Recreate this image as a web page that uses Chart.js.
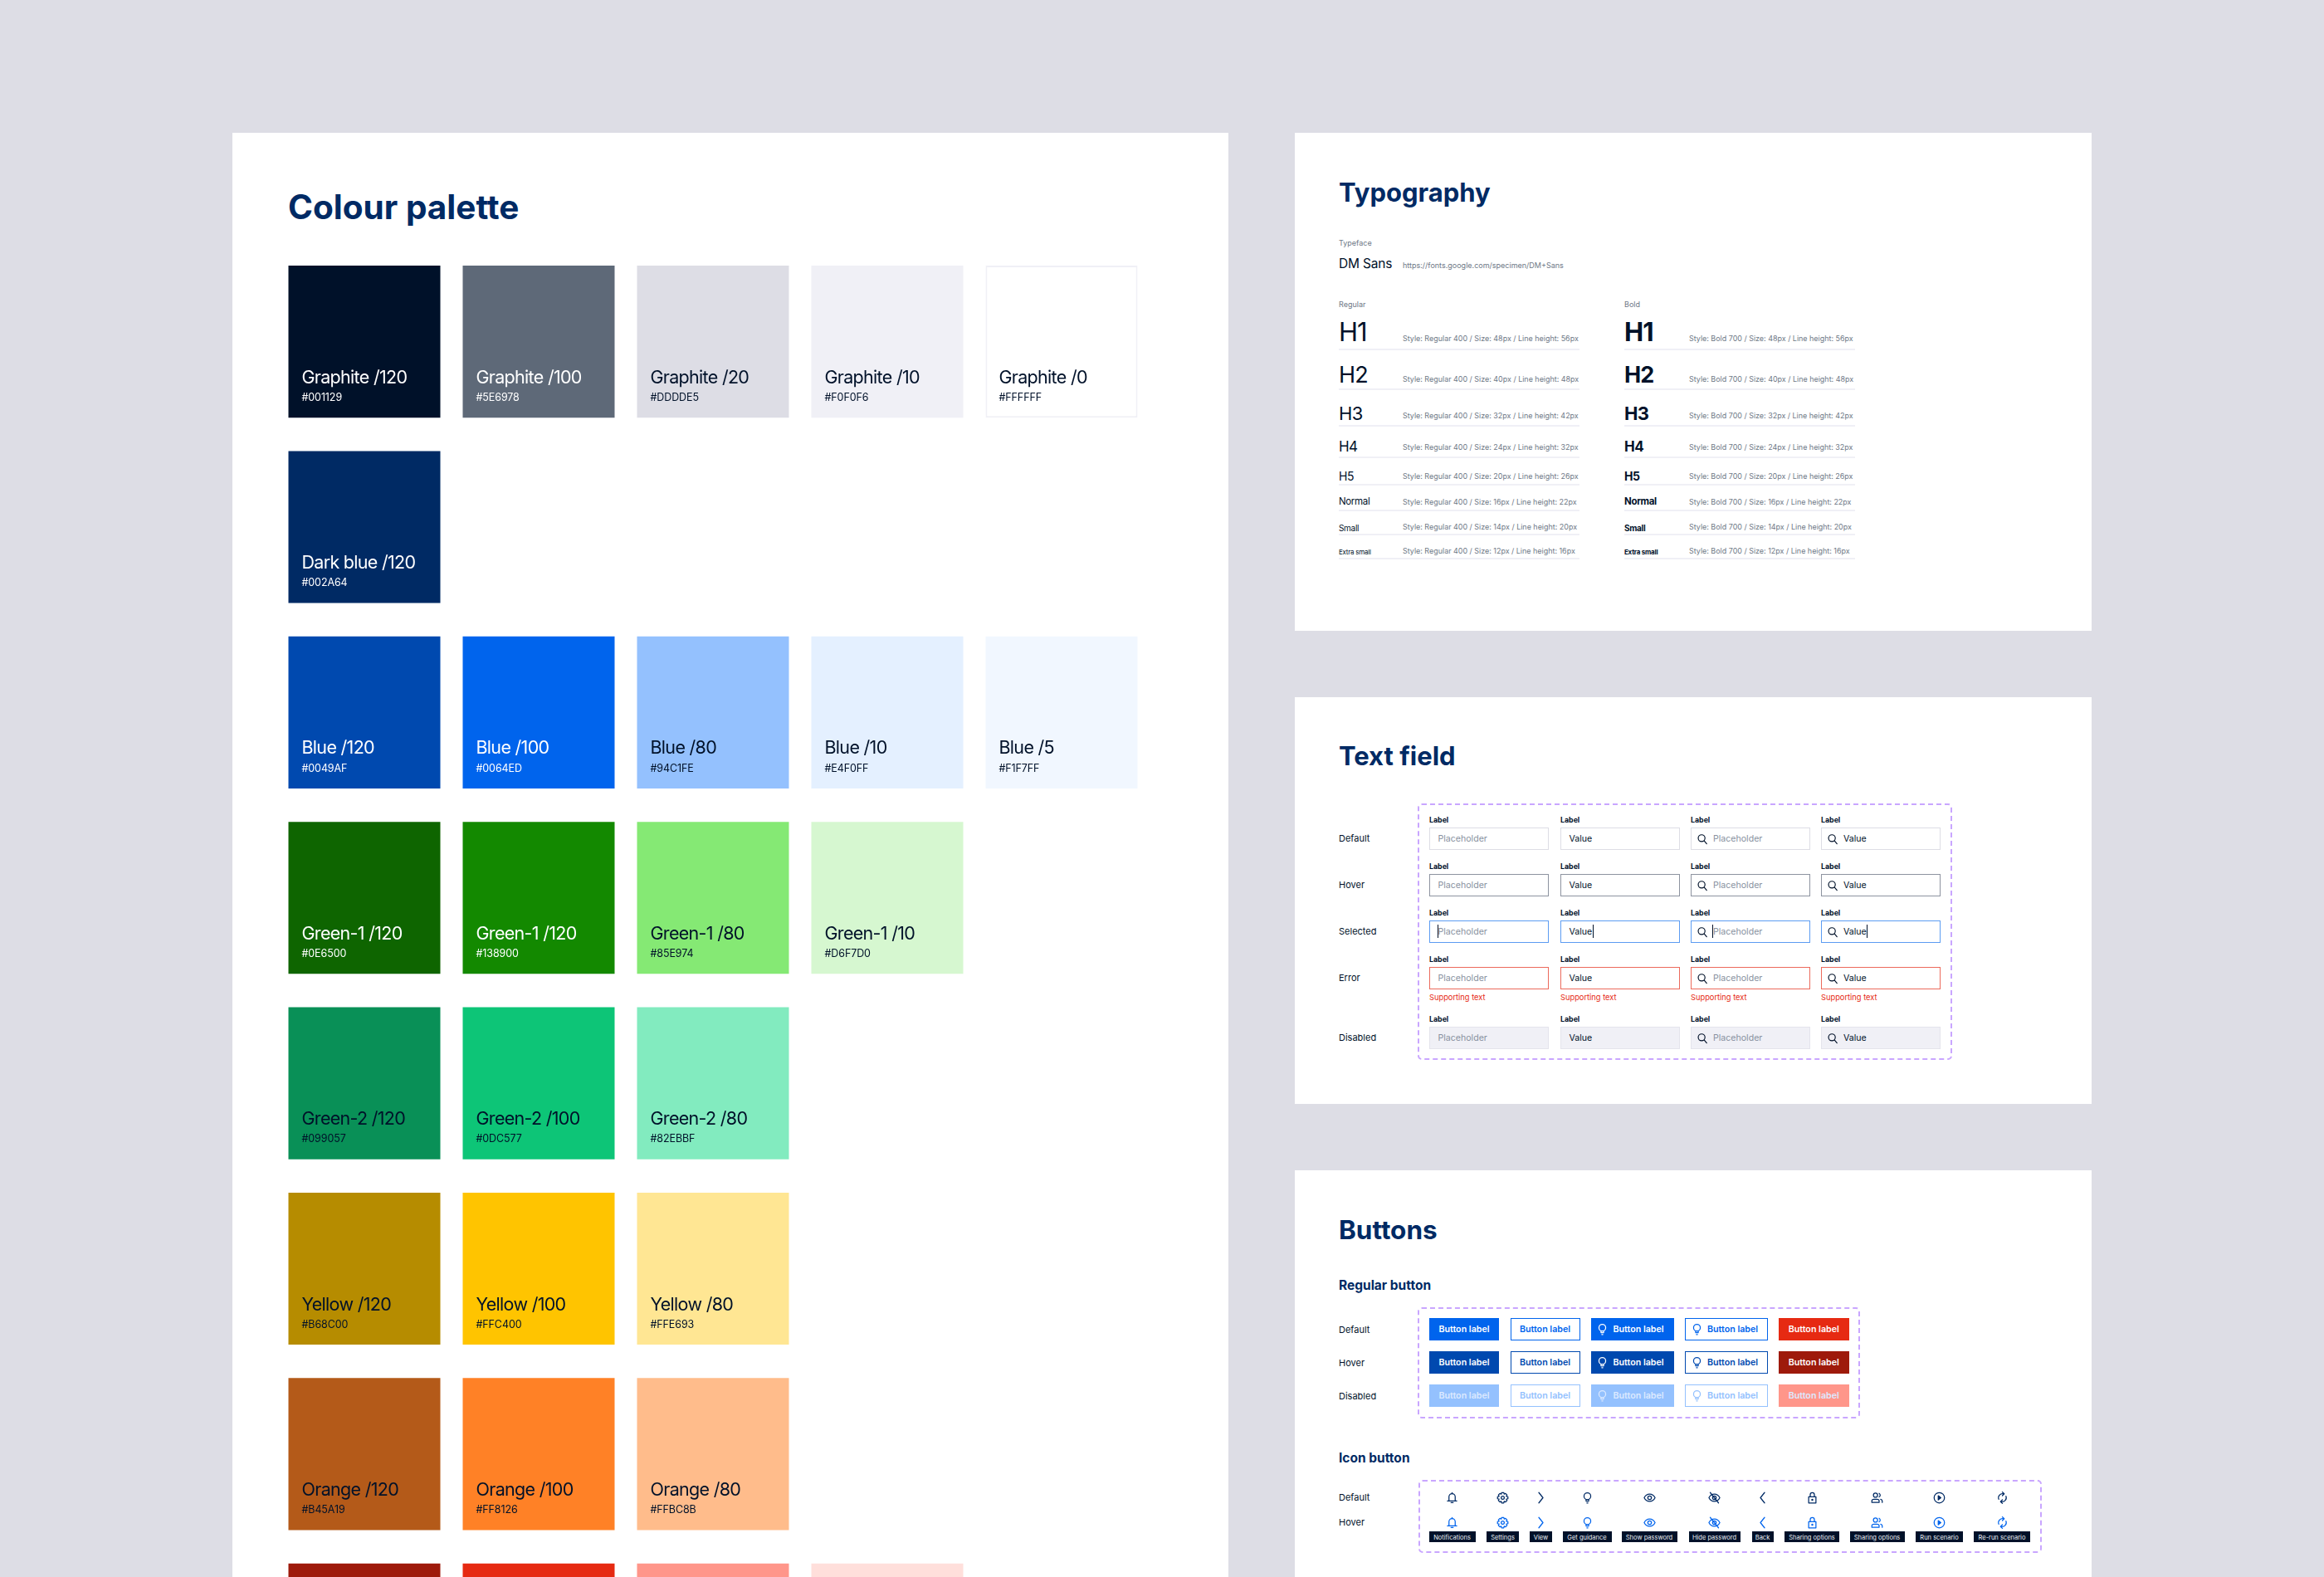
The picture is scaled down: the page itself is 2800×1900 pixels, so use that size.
<!DOCTYPE html>
<html>
<head>
<meta charset="utf-8">
<title>Design system</title>
<script src="https://cdn.jsdelivr.net/npm/chart.js@4"></script>
<style>
  html, body { margin: 0; width: 2800px; height: 1900px; overflow: hidden; background: #DDDDE5; }
  body { position: relative; font-family: Inter, "Noto Sans", sans-serif; color: #001129; }
  .panel { position: absolute; background: #fff; }
  .t { position: absolute; white-space: nowrap; transform: translateY(-50%); line-height: 1.2; }
  .box { position: absolute; box-sizing: border-box; }
  .dash { position: absolute; box-sizing: border-box; border: 2px dashed #C9A6FF; border-radius: 5px; }
  svg.i { position: absolute; fill: none; stroke: currentColor; stroke-width: 2; stroke-linecap: round; stroke-linejoin: round; }
  #paletteChart { position: absolute; left: 333.5px; top: 320px; }
</style>
</head>
<body>
<div class="panel" style="left:280px;top:160px;width:1200px;height:1740px"></div>
<div class="panel" style="left:1560px;top:160px;width:960px;height:600px"></div>
<div class="panel" style="left:1560px;top:840px;width:960px;height:490px"></div>
<div class="panel" style="left:1560px;top:1410px;width:960px;height:490px"></div>
<canvas id="paletteChart" width="1050" height="1787"></canvas>
<script>
// palette
const graphiteNames = ['Graphite /120', 'Graphite /100', 'Graphite /20', 'Graphite /10', 'Graphite /0'];
const graphiteHex = ['#001129', '#5E6978', '#DDDDE5', '#F0F0F6', '#FFFFFF'];
const darkBlueNames = ['Dark blue /120'];
const darkBlueHex = ['#002A64'];
const blueNames = ['Blue /120', 'Blue /100', 'Blue /80', 'Blue /10', 'Blue /5'];
const blueHex = ['#0049AF', '#0064ED', '#94C1FE', '#E4F0FF', '#F1F7FF'];
const green1Names = ['Green-1 /120', 'Green-1 /120', 'Green-1 /80', 'Green-1 /10'];
const green1Hex = ['#0E6500', '#138900', '#85E974', '#D6F7D0'];
const green2Names = ['Green-2 /120', 'Green-2 /100', 'Green-2 /80'];
const green2Hex = ['#099057', '#0DC577', '#82EBBF'];
const yellowNames = ['Yellow /120', 'Yellow /100', 'Yellow /80'];
const yellowHex = ['#B68C00', '#FFC400', '#FFE693'];
const orangeNames = ['Orange /120', 'Orange /100', 'Orange /80'];
const orangeHex = ['#B45A19', '#FF8126', '#FFBC8B'];
const redNames = ['Red /120', 'Red /100', 'Red /80', 'Red /10'];
const redHex = ['#9E1A0B', '#E62A12', '#FF968A', '#FFDFDB'];
const whiteLabelHex = ['#001129', '#5E6978', '#002A64', '#0049AF', '#0064ED', '#0E6500', '#138900', '#9E1A0B', '#E62A12'];

// typography
const typeLevels = ['H1', 'H2', 'H3', 'H4', 'H5', 'Normal', 'Small', 'Extra small'];
const typeSizes = [48, 40, 32, 24, 20, 16, 14, 12];
const typeLineHeights = [56, 48, 42, 32, 26, 22, 20, 16];

// text field
const fieldStates = ['Default', 'Hover', 'Selected', 'Error', 'Disabled'];
const fieldKinds = ['Placeholder', 'Value', 'Placeholder', 'Value'];

// buttons
const buttonStates = ['Default', 'Hover', 'Disabled'];
const iconNames = ['bell', 'gear', 'next', 'bulb', 'eye', 'eyeoff', 'back', 'lock', 'users', 'play', 'rerun'];
const iconLabels = ['Notifications', 'Settings', 'View', 'Get guidance', 'Show password', 'Hide password', 'Back', 'Sharing options', 'Sharing options', 'Run scenario', 'Re-run scenario'];

// ---- swatches
const familyRows = [
  [graphiteNames, graphiteHex], [darkBlueNames, darkBlueHex], [blueNames, blueHex], [green1Names, green1Hex],
  [green2Names, green2Hex], [yellowNames, yellowHex], [orangeNames, orangeHex], [redNames, redHex]
];

const swatchText = {
  id: 'swatchText',
  afterDatasetsDraw(chart) {
    const ctx = chart.ctx;
    ctx.save();
    ctx.textBaseline = 'middle';
    chart.data.datasets.forEach((ds, i) => {
      chart.getDatasetMeta(i).data.forEach((bar, j) => {
        const left = bar.x - bar.width / 2 + 16;
        const bottom = Math.max(bar.y, bar.base);
        ctx.fillStyle = whiteLabelHex.includes(ds.backgroundColor[j]) ? '#FFFFFF' : '#001129';
        ctx.letterSpacing = '-0.7px';
        ctx.font = '400 21.5px Inter';
        ctx.fillText(ds.names[j], left, bottom - 48);
        ctx.letterSpacing = '-0.1px';
        ctx.font = '400 12.5px Inter';
        ctx.fillText(ds.backgroundColor[j], left, bottom - 24);
      });
    });
    ctx.restore();
  }
};

new Chart(document.getElementById('paletteChart'), {
  type: 'bar',
  data: {
    labels: ['1', '2', '3', '4', '5'],
    datasets: familyRows.map(([names, hex], row) => ({
      names,
      data: hex.map(() => [row, row + 0.82]),
      backgroundColor: hex,
      borderColor: '#F0F0F6',
      borderWidth: hex.map(h => (h === '#FFFFFF' ? 2 : 0)),
      borderSkipped: false
    }))
  },
  options: {
    responsive: false,
    animation: false,
    grouped: false,
    barPercentage: 183 / 210,
    categoryPercentage: 1,
    layout: { padding: 0 },
    plugins: { legend: { display: false }, tooltip: { enabled: false } },
    scales: {
      x: { display: false },
      y: { display: false, reverse: true, min: 0, max: 8 }
    }
  },
  plugins: [swatchText]
});

// ---- helpers for the UI panels
function text(str, x, y, size, weight, color, extra) {
  const el = document.createElement('div');
  el.className = 't';
  el.textContent = str;
  el.style.cssText = `left:${x}px;top:${y}px;font-size:${size}px;font-weight:${weight};color:${color};${extra || ''}`;
  document.body.appendChild(el);
  return el;
}
function box(x, y, w, h, css) {
  const el = document.createElement('div');
  el.className = 'box';
  el.style.cssText = `left:${x}px;top:${y}px;width:${w}px;height:${h}px;${css}`;
  document.body.appendChild(el);
  return el;
}
function dashed(x0, y0, x1, y1) {
  box(x0, y0, x1 - x0, y1 - y0, '').className = 'dash';
}
const iconPaths = {
  search: '<circle cx="10.5" cy="10" r="7"/><path d="M16 15.5l5 6"/>',
  bell: '<path d="M6 18V10a6 6 0 0 1 12 0v8"/><path d="M3 18h18M10 21.5h4M12 2v2"/>',
  gear: '<circle cx="12" cy="12" r="3"/><path d="M10 2h4l.8 3 2.700-1.200 2.800 2.800L19 9.300l3 .7v4l-3 .7 1.300 2.700-2.800 2.800-2.700-1.200-.8 3h-4l-.8-3-2.700 1.200-2.800-2.800L5 14.700 2 14v-4l3-.7-1.300-2.700 2.800-2.800L9.200 5z"/>',
  next: '<path d="M8 2l8 10-8 10"/>',
  back: '<path d="M16 2L8 12l8 10"/>',
  bulb: '<circle cx="12" cy="9" r="6.5"/><path d="M9.5 16v2.500h5V16M11 22h2"/>',
  eye: '<path d="M1.5 12C4 7 8 5 12 5s8 2 10.500 7C20 17 16 19 12 19s-8-2-10.500-7z"/><circle cx="12" cy="12" r="3.5"/>',
  eyeoff: '<path d="M1.5 12C4 7 8 5 12 5s8 2 10.500 7C20 17 16 19 12 19s-8-2-10.500-7z"/><circle cx="12" cy="12" r="3.5"/><path d="M4 2l16 20"/>',
  lock: '<rect x="5" y="10" width="14" height="12"/><path d="M8 10V6a4 4 0 0 1 8 0v4"/><circle cx="12" cy="16" r="1"/>',
  users: '<circle cx="9" cy="7" r="4"/><path d="M2 21v-3c0-2 2-3 4-3h6c2 0 4 1 4 3v3z"/><path d="M16 3.5a4 4 0 0 1 0 7M19 15c2 .5 3 1.500 3 3v3"/>',
  play: '<circle cx="12" cy="12" r="10"/><path d="M10 8l5 4-5 4z" fill="currentColor"/>',
  rerun: '<path d="M5 15A8 8 0 0 1 15 4.600"/><path d="M19 9A8 8 0 0 1 9 19.400"/><path d="M12 1l3.500 3.500L12 8M12 16l-3.500 3.500L12 23"/>'
};
function icon(name, cx, cy, size, color) {
  const wrap = document.createElement('div');
  wrap.innerHTML = `<svg class="i" viewBox="0 0 24 24" width="${size}" height="${size}" style="left:${cx - size / 2}px;top:${cy - size / 2}px;color:${color}">${iconPaths[name]}</svg>`;
  document.body.appendChild(wrap.firstChild);
}

// ---- titles
const navy = '#002A64', ink = '#001129', grey = '#6E7886';
text('Colour palette', 347, 250, 40.5, 700, navy);
text('Typography', 1613, 232, 31, 700, navy);
text('Text field', 1613, 911, 31, 700, navy);
text('Buttons', 1613, 1482, 31.5, 700, navy);
text('Regular button', 1613, 1549, 15.5, 700, navy);
text('Icon button', 1613, 1757, 15.5, 700, navy);

// ---- typography
text('Typeface', 1613, 293, 9, 400, grey);
text('DM Sans', 1613, 318, 15.5, 400, ink, 'letter-spacing:-0.2px');
text('https://fonts.google.com/specimen/DM+Sans', 1690, 320, 9, 400, grey);
text('Regular', 1613, 367, 9, 400, grey);
text('Bold', 1957, 367, 9, 400, grey);
const levelY = [400, 452, 498, 538, 573.5, 605, 635.5, 665.5];
const styleY = [408, 457, 501, 539, 574, 605, 635, 664];
const ruleY = [420, 468, 512, 550, 583, 614, 643, 672];
const levelPx = [31, 27, 22, 17, 14, 11.5, 10, 8];
[[1613, 1690, 1903, 'Regular', 400], [1957, 2035, 2235, 'Bold', 700]].forEach(([x0, x1, x2, label, weight]) => {
  typeLevels.forEach((name, i) => {
    text(name, x0, levelY[i], levelPx[i], weight, ink, 'letter-spacing:-0.03em');
    text(`Style: ${label} ${weight} / Size: ${typeSizes[i]}px / Line height: ${typeLineHeights[i]}px`, x1, styleY[i], 8.95, 400, grey);
    box(x0, ruleY[i], x2 - x0, 1.5, 'background:#F0F0F6');
  });
});

// ---- text field
dashed(1708, 968, 2352, 1277);
const fieldTop = [997, 1053, 1109, 1165, 1237];
const fieldX = [1722, 1880, 2037, 2194];
const fieldBorder = ['#DDDDE5', '#8D93A0', '#5C9CF2', '#EC6A5C', '#E4E4EC'];
fieldStates.forEach((state, r) => {
  text(state, 1613, fieldTop[r] + 14, 11, 400, ink);
  fieldKinds.forEach((kind, c) => {
    const x = fieldX[c];
    const withIcon = c >= 2;
    const tx = x + (withIcon ? 27 : 10.5);
    text('Label', x, fieldTop[r] - 9, 8.8, 700, ink);
    box(x, fieldTop[r], 144, 26.5, `border:1.5px solid ${fieldBorder[r]};background:${r === 4 ? '#F0F0F6' : '#fff'}`);
    if (withIcon) icon('search', x + 13.5, fieldTop[r] + 13.5, 14, ink);
    text(kind, tx, fieldTop[r] + 14, 10.6, 400, kind === 'Value' ? ink : '#8891A0');
    if (r === 2) {
      const caretX = kind === 'Value' ? tx + 28 : tx - 1;
      box(caretX, fieldTop[r] + 5, 1, 16, `background:${ink}`);
    }
    if (r === 3) text('Supporting text', x, 1202, 9.3, 400, '#E62A12');
  });
});

// ---- regular buttons
dashed(1708, 1575, 2241, 1709);
const buttonTop = [1588, 1628, 1668];
const buttonCols = [[1722, 84, 'fill', false], [1819.5, 84, 'line', false], [1916.5, 100, 'fill', true], [2030, 100, 'line', true], [2143, 84.5, 'danger', false]];
const buttonBlue = ['#0064ED', '#0049AF', '#94C1FE'];
const buttonRed = ['#E62A12', '#9E1A0B', '#FF968A'];
buttonStates.forEach((state, r) => {
  text(state, 1613, buttonTop[r] + 14.5, 11, 400, ink);
  buttonCols.forEach(([x, w, kind, withIcon]) => {
    const main = kind === 'danger' ? buttonRed[r] : buttonBlue[r];
    const line = kind === 'line';
    const fg = line ? main : (r === 2 ? '#DCE9FF' : '#fff');
    box(x, buttonTop[r], w, 27, `background:${line ? '#fff' : main};border:1.5px solid ${main}`);
    if (withIcon) icon('bulb', x + 14, buttonTop[r] + 13.5, 15, fg);
    const el = text('Button label', withIcon ? x + 27 : x + w / 2, buttonTop[r] + 14, 10.7, 600, fg);
    if (!withIcon) el.style.transform = 'translate(-50%,-50%)';
  });
});

// ---- icon buttons
dashed(1709, 1783, 2460, 1871);
text('Default', 1613, 1805, 11, 400, ink);
text('Hover', 1613, 1835, 11, 400, ink);
const iconX = [1749.5, 1810.5, 1856.5, 1912, 1987, 2065.5, 2123.5, 2183, 2261.5, 2336.5, 2412];
const tipW = [56, 39, 27, 59, 67, 62, 26, 66, 66, 57, 68];
iconNames.forEach((name, i) => {
  icon(name, iconX[i], 1804.5, 15, navy);
  icon(name, iconX[i], 1834, 15, '#0064ED');
  box(iconX[i] - tipW[i] / 2, 1845, tipW[i], 13, `background:${ink}`);
  const el = text(iconLabels[i], iconX[i], 1851.5, 7.5, 400, '#F0F0F6');
  el.style.transform = 'translate(-50%,-50%)';
});
</script>
</body>
</html>
